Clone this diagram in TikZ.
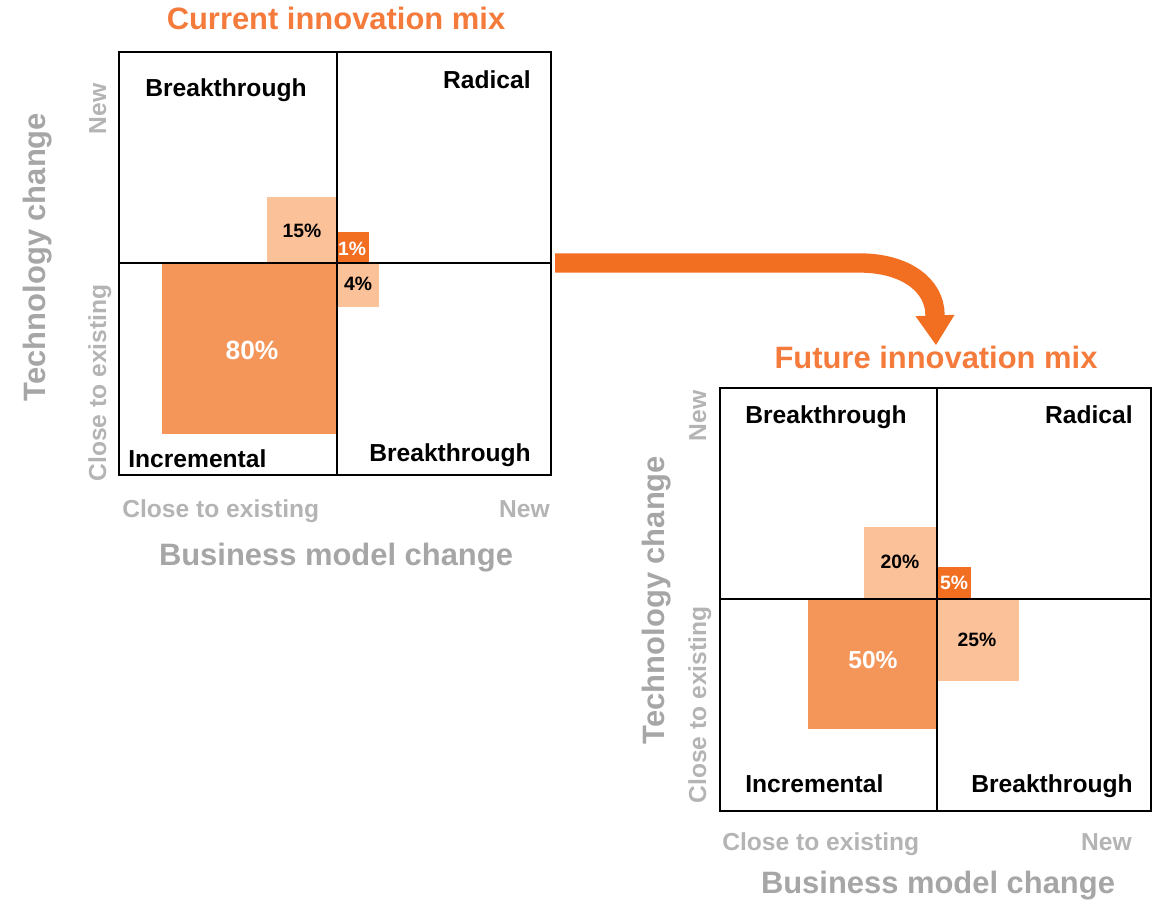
\documentclass[tikz,border=0pt]{standalone}
\usepackage{fontspec}
\setmainfont{Liberation Sans}
\usetikzlibrary{arrows.meta}

\definecolor{strongorange}{HTML}{F26F21}
\definecolor{midorange}{HTML}{F4955A}
\definecolor{lightorange}{HTML}{FBC199}
\definecolor{titleorange}{HTML}{F47B3B}
\definecolor{axisgray}{HTML}{A6A6A6}
\definecolor{tickgray}{HTML}{B4B4B4}

\tikzset{
  quadlabel/.style={inner sep=0pt, font=\fontsize{14}{16}\selectfont\bfseries},
  ticklabel/.style={inner sep=0pt, text=tickgray, font=\fontsize{14}{16}\selectfont\bfseries},
  axislabel/.style={inner sep=0pt, text=axisgray, font=\fontsize{17.6}{20}\selectfont\bfseries},
  mixtitle/.style={inner sep=0pt, text=titleorange, font=\fontsize{17.6}{20}\selectfont\bfseries},
  pct/.style={inner sep=0pt, font=\fontsize{11}{13}\selectfont\bfseries},
  gridline/.style={black, line width=1.2pt},
}

\begin{document}
\begin{tikzpicture}[x=0.02cm, y=-0.02cm]
  \useasboundingbox (0,0) rectangle (1161,904);

  % current mix
  \fill[midorange] (162,263) rectangle (337,434);
  \fill[lightorange] (267,197) rectangle (337,263);
  \fill[strongorange] (337,232) rectangle (369,263);
  \fill[lightorange] (337,263) rectangle (379,307);
  \draw[gridline] (119,52) rectangle (551,475);
  \draw[gridline] (337,52) -- (337,475);
  \draw[gridline] (119,263) -- (551,263);
  \coordinate (curedge) at (555,263);

  \node[mixtitle] (curtitle) at (336,18) {Current innovation mix};
  \node[quadlabel, anchor=base west] (curbt) at (145,96) {Breakthrough};
  \node[quadlabel, anchor=base east] (currad) at (531,88) {Radical};
  \node[quadlabel, anchor=base west] (curinc) at (128,467) {Incremental};
  \node[quadlabel, anchor=base east] (curbb) at (531,461) {Breakthrough};
  \node[pct, text=white, font=\fontsize{15}{17}\selectfont\bfseries] (cur80) at (252,350) {80\%};
  \node[pct] (cur15) at (302,231) {15\%};
  \node[pct, text=white] (cur1) at (352,249) {1\%};
  \node[pct] (cur4) at (358,284) {4\%};
  \node[ticklabel, anchor=base west] (curxlo) at (122,517) {Close to existing};
  \node[ticklabel, anchor=base east] (curxhi) at (550,517) {New};
  \node[axislabel] (curxaxis) at (336,558) {Business model change};
  \node[ticklabel, rotate=90, anchor=base] (curyhi) at (106,109) {New};
  \node[ticklabel, rotate=90, anchor=base] (curylo) at (106,383) {Close to existing};
  \node[axislabel, rotate=90, anchor=base] (curyaxis) at (46,257) {Technology change};

  % future mix
  \fill[midorange] (808,599) rectangle (937,729);
  \fill[lightorange] (864,527) rectangle (937,599);
  \fill[strongorange] (937,567) rectangle (971,599);
  \fill[lightorange] (937,599) rectangle (1019,681);
  \draw[gridline] (720,388) rectangle (1151,811);
  \draw[gridline] (937,388) -- (937,811);
  \draw[gridline] (720,599) -- (1151,599);

  \node[mixtitle] (futtitle) at (936,357) {Future innovation mix};
  \node[quadlabel, anchor=base west] (futbt) at (745,423) {Breakthrough};
  \node[quadlabel, anchor=base east] (futrad) at (1133,423) {Radical};
  \node[quadlabel, anchor=base west] (futinc) at (745,792) {Incremental};
  \node[quadlabel, anchor=base east] (futbb) at (1133,792) {Breakthrough};
  \node[pct, text=white, font=\fontsize{14}{16}\selectfont\bfseries] (fut50) at (873,660) {50\%};
  \node[pct] (fut20) at (900,562) {20\%};
  \node[pct, text=white] (fut5) at (954,583) {5\%};
  \node[pct] (fut25) at (977,640) {25\%};
  \node[ticklabel, anchor=base west] (futxlo) at (722,850) {Close to existing};
  \node[ticklabel, anchor=base east] (futxhi) at (1132,850) {New};
  \node[axislabel] (futxaxis) at (938,886) {Business model change};
  \node[ticklabel, rotate=90, anchor=base] (futyhi) at (706,416) {New};
  \node[ticklabel, rotate=90, anchor=base] (futylo) at (706,705) {Close to existing};
  \node[axislabel, rotate=90, anchor=base] (futyaxis) at (664,600) {Technology change};

  % shift arrow
  \draw[strongorange, line width=11pt, -{Triangle[length=17pt, width=21pt]}]
    (curedge) -- (860,263) .. controls (905,263) and (935,285) .. (935,315) -- (futtitle.north);
\end{tikzpicture}
\end{document}
